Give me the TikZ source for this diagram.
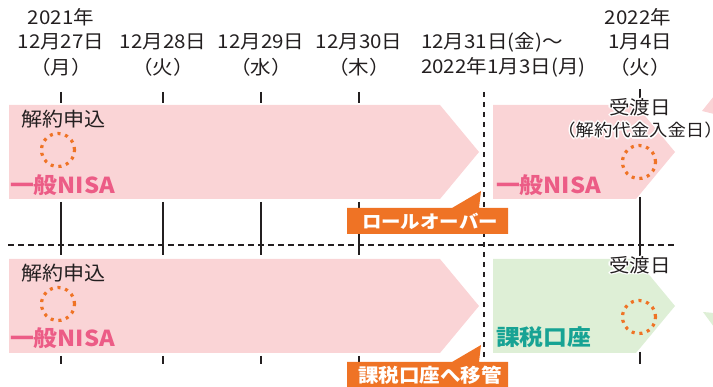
\documentclass[tikz,border=0pt]{standalone}
\usepackage{fontspec}
\setmainfont{Noto Sans CJK JP}[FakeStretch=1.08]
\definecolor{pinkfill}{HTML}{FAD4D6}
\definecolor{greenfill}{HTML}{DEEFD6}
\definecolor{nisapink}{HTML}{EC5C86}
\definecolor{kteal}{HTML}{17A394}
\definecolor{korange}{HTML}{EF7325}
\definecolor{ink}{HTML}{231F20}
\newcommand\halo[1]{\setbox0=\hbox{#1}%
 \rlap{\color{white}\kern1.6pt\copy0}%
 \rlap{\color{white}\kern-1.6pt\copy0}%
 \rlap{\color{white}\raise1.6pt\copy0}%
 \rlap{\color{white}\lower1.6pt\copy0}%
 \rlap{\color{white}\kern1.1pt\raise1.1pt\copy0}%
 \rlap{\color{white}\kern-1.1pt\raise1.1pt\copy0}%
 \rlap{\color{white}\kern1.1pt\lower1.1pt\copy0}%
 \rlap{\color{white}\kern-1.1pt\lower1.1pt\copy0}%
 \box0}
\tikzset{
 lbl/.style={font=\fontsize{19}{19}\selectfont, text=ink, inner sep=0pt},
 sublbl/.style={font=\fontsize{17}{17}\selectfont, text=ink, inner sep=0pt},
 nisa/.style={font=\fontsize{22}{22}\selectfont\bfseries, text=nisapink, inner sep=0pt, anchor=west},
 kazei/.style={font=\fontsize{22}{22}\selectfont\bfseries, text=kteal, inner sep=0pt, anchor=west},
 calltxt/.style={font=\fontsize{18}{18}\selectfont\bfseries, text=white, inner sep=0pt},
 tick/.style={draw=ink, line width=1.8pt},
 dashline/.style={draw=ink, line width=1.3pt, dash pattern=on 6pt off 4pt},
 dotcircle/.style={draw=korange, line width=3.2pt, dash pattern=on 3pt off 4.8pt},
 pinkshape/.style={fill=pinkfill, draw=none},
 greenshape/.style={fill=greenfill, draw=none},
 callout/.style={fill=korange, draw=none},
}
\begin{document}
\begin{tikzpicture}[x=1pt,y=-1pt]
\useasboundingbox (0,0) rectangle (713,387);
\clip (0,0) rectangle (713,387);
% ticks
\foreach \x in {61,163,261,359}{
  \draw[tick] (\x,92) -- (\x,103);
  \draw[tick] (\x,202) -- (\x,255);
  \draw[tick] (\x,356) -- (\x,364);
}
\draw[tick] (640,89) -- (640,100);
\draw[tick] (640,197) -- (640,257);
\draw[tick] (640,352) -- (640,364);
% dashed lines
\draw[dashline] (8,245) -- (676,245);
\draw[dashline, dash pattern=on 5pt off 5pt] (484,92) -- (484,362);
% band shapes
\path[pinkshape] (9,105) -- (440,105) -- (479,152) -- (440,199) -- (9,199) -- cycle;
\path[pinkshape] (493,105) -- (636,105) -- (675,152) -- (636,199) -- (493,199) -- cycle;
\path[pinkshape] (702,111) -- (714,96) -- (714,114) -- cycle;
\path[pinkshape] (9,259) -- (440,259) -- (479,306) -- (440,353) -- (9,353) -- cycle;
\path[greenshape] (493,259) -- (636,259) -- (675,306) -- (636,353) -- (493,353) -- cycle;
\path[greenshape] (703,312) -- (714,313) -- (714,327) -- cycle;
% dotted circles
\node[circle, dotcircle, minimum size=33pt, inner sep=0pt] (c1) at (58,150) {};
\node[circle, dotcircle, minimum size=33pt, inner sep=0pt] (c2) at (639,162) {};
\node[circle, dotcircle, minimum size=33pt, inner sep=0pt] (c3) at (58,304) {};
\node[circle, dotcircle, minimum size=33pt, inner sep=0pt] (c4) at (639,317) {};
% callouts
\path[callout] (347,208) -- (452,208) -- (481,191) -- (479,208) -- (508,208) -- (508,234) -- (347,234) -- cycle;
\node[calltxt] (rollover) at (430,221) {ロールオーバー};
\path[callout] (347,362) -- (452,362) -- (481,345) -- (479,362) -- (508,362) -- (508,392) -- (347,392) -- cycle;
\node[calltxt, font=\fontsize{19}{19}\selectfont\bfseries] (transfer) at (430,375) {課税口座へ移管};
% date labels
\node[lbl] (y1) at (61,17) {2021年};
\node[lbl] (d1) at (61,42) {12月27日};
\node[lbl] (w1) at (61,67) {（月）};
\node[lbl] (d2) at (163,42) {12月28日};
\node[lbl] (w2) at (163,67) {（火）};
\node[lbl] (d3) at (261,42) {12月29日};
\node[lbl] (w3) at (261,67) {（水）};
\node[lbl] (d4) at (359,42) {12月30日};
\node[lbl] (w4) at (359,67) {（木）};
\node[lbl, anchor=west] (d5) at (421,42) {12月31日(金)〜};
\node[lbl, anchor=west] (w5) at (421,67) {2022年1月3日(月)};
\node[lbl] (y6) at (638,17) {2022年};
\node[lbl] (d6) at (640,42) {1月4日};
\node[lbl] (w6) at (640,67) {（火）};
% band texts
\node[lbl, anchor=west, font=\fontsize{19.5}{19.5}\selectfont] (m1) at (21,119) {解約申込};
\node[nisa] (n1) at (10,185) {一般NISA};
\node[lbl] (u1) at (640,107) {\halo{受渡日}};
\node[sublbl] (u1b) at (640,130) {\halo{（解約代金入金日）}};
\node[nisa] (n2) at (496,185) {一般NISA};
\node[lbl, anchor=west, font=\fontsize{19.5}{19.5}\selectfont] (m2) at (21,273) {解約申込};
\node[nisa] (n3) at (10,338) {一般NISA};
\node[lbl] (u2) at (640,265) {\halo{受渡日}};
\node[kazei] (k1) at (496,337) {課税口座};
\end{tikzpicture}
\end{document}
